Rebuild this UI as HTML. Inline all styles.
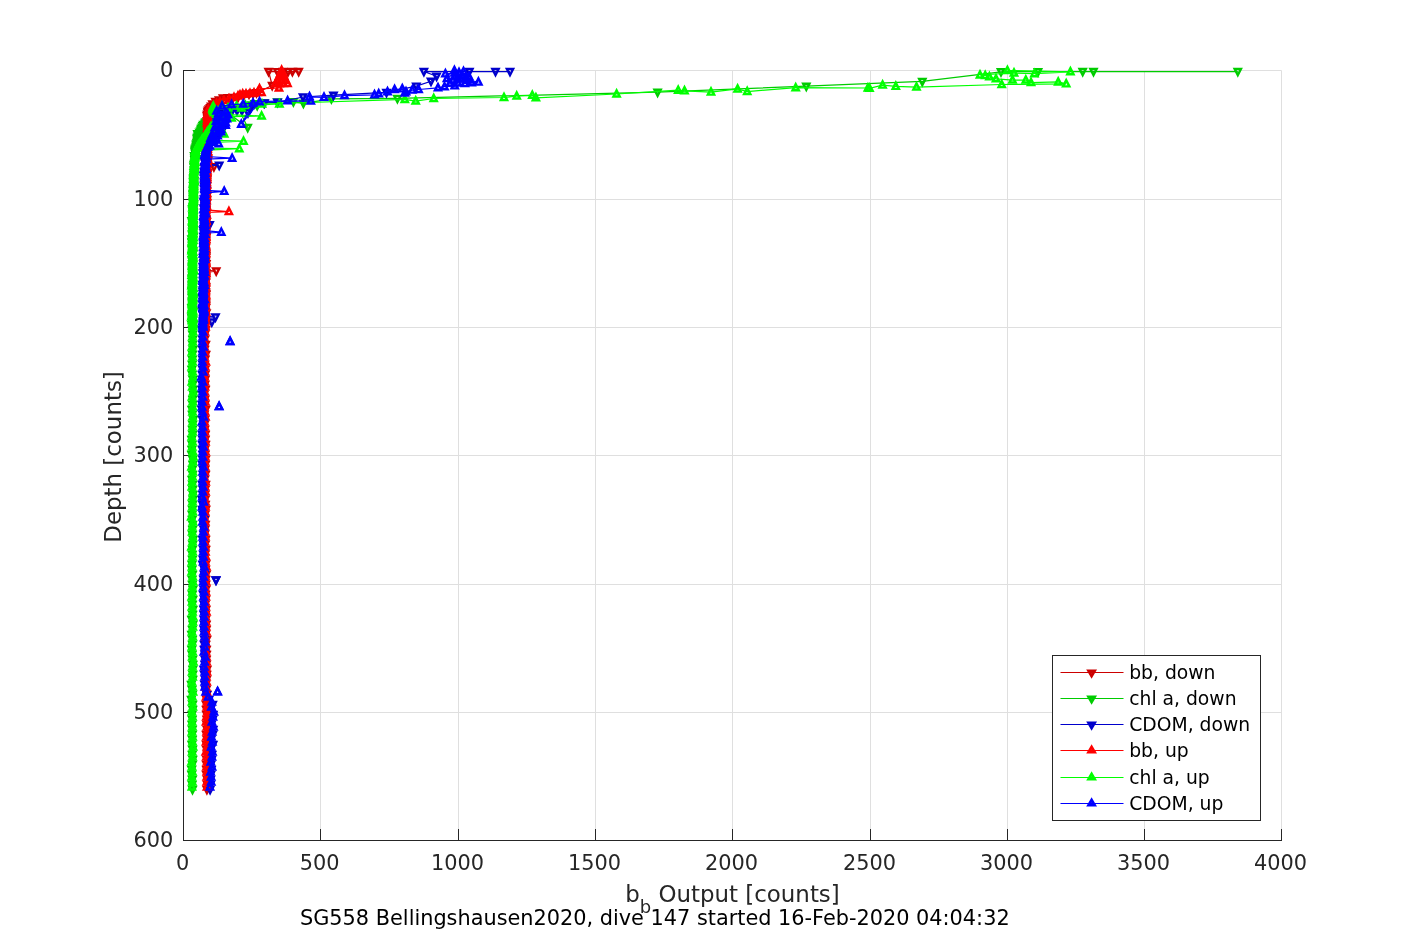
<!DOCTYPE html>
<html lang="en"><head><meta charset="utf-8"><title>SG558 Bellingshausen2020, dive 147</title>
<style>html,body{margin:0;padding:0;background:#fff;overflow:hidden}svg{display:block}text{font-family:"DejaVu Sans","Liberation Sans",sans-serif;fill:#262626}.tk{font-size:20.83px}.lb{font-size:22.92px}.lg{font-size:18.75px;fill:#000}.ft{font-size:20.83px;fill:#000}.s{fill:none;stroke-width:1.25}</style></head><body>
<svg width="1417" height="945" viewBox="0 0 1417 945">
<rect width="1417" height="945" fill="#fff"/>
<defs>
<marker id="m_bb_down" markerUnits="userSpaceOnUse" markerWidth="16" markerHeight="16" viewBox="-8 -8 16 16" refX="0" refY="0" orient="0" overflow="visible"><path d="M-3.14 -2.5 L3.14 -2.5 L0 3.66 Z" fill="none" stroke="#cc0000" stroke-width="2.4" stroke-linejoin="miter"/></marker>
<marker id="m_chl_down" markerUnits="userSpaceOnUse" markerWidth="16" markerHeight="16" viewBox="-8 -8 16 16" refX="0" refY="0" orient="0" overflow="visible"><path d="M-3.14 -2.5 L3.14 -2.5 L0 3.66 Z" fill="none" stroke="#00cc00" stroke-width="2.4" stroke-linejoin="miter"/></marker>
<marker id="m_cdom_down" markerUnits="userSpaceOnUse" markerWidth="16" markerHeight="16" viewBox="-8 -8 16 16" refX="0" refY="0" orient="0" overflow="visible"><path d="M-3.14 -2.5 L3.14 -2.5 L0 3.66 Z" fill="none" stroke="#0000cc" stroke-width="2.4" stroke-linejoin="miter"/></marker>
<marker id="m_bb_up" markerUnits="userSpaceOnUse" markerWidth="16" markerHeight="16" viewBox="-8 -8 16 16" refX="0" refY="0" orient="0" overflow="visible"><path d="M-3.14 2.5 L3.14 2.5 L0 -3.66 Z" fill="none" stroke="#ff0000" stroke-width="2.4" stroke-linejoin="miter"/></marker>
<marker id="m_chl_up" markerUnits="userSpaceOnUse" markerWidth="16" markerHeight="16" viewBox="-8 -8 16 16" refX="0" refY="0" orient="0" overflow="visible"><path d="M-3.14 2.5 L3.14 2.5 L0 -3.66 Z" fill="none" stroke="#00ff00" stroke-width="2.4" stroke-linejoin="miter"/></marker>
<marker id="m_cdom_up" markerUnits="userSpaceOnUse" markerWidth="16" markerHeight="16" viewBox="-8 -8 16 16" refX="0" refY="0" orient="0" overflow="visible"><path d="M-3.14 2.5 L3.14 2.5 L0 -3.66 Z" fill="none" stroke="#0000ff" stroke-width="2.4" stroke-linejoin="miter"/></marker>
<marker id="l_bb_down" markerUnits="userSpaceOnUse" markerWidth="16" markerHeight="16" viewBox="-8 -8 16 16" refX="0" refY="0" orient="0" overflow="visible"><path d="M-3.05 -1.6L3.05 -1.6L0 3.55Z" fill="none" stroke="#cc0000" stroke-width="2.7" stroke-linejoin="miter"/></marker>
<marker id="l_chl_down" markerUnits="userSpaceOnUse" markerWidth="16" markerHeight="16" viewBox="-8 -8 16 16" refX="0" refY="0" orient="0" overflow="visible"><path d="M-3.05 -1.6L3.05 -1.6L0 3.55Z" fill="none" stroke="#00cc00" stroke-width="2.7" stroke-linejoin="miter"/></marker>
<marker id="l_cdom_down" markerUnits="userSpaceOnUse" markerWidth="16" markerHeight="16" viewBox="-8 -8 16 16" refX="0" refY="0" orient="0" overflow="visible"><path d="M-3.05 -1.6L3.05 -1.6L0 3.55Z" fill="none" stroke="#0000cc" stroke-width="2.7" stroke-linejoin="miter"/></marker>
<marker id="l_bb_up" markerUnits="userSpaceOnUse" markerWidth="16" markerHeight="16" viewBox="-8 -8 16 16" refX="0" refY="0" orient="0" overflow="visible"><path d="M-3.05 1.6L3.05 1.6L0 -3.55Z" fill="none" stroke="#ff0000" stroke-width="2.7" stroke-linejoin="miter"/></marker>
<marker id="l_chl_up" markerUnits="userSpaceOnUse" markerWidth="16" markerHeight="16" viewBox="-8 -8 16 16" refX="0" refY="0" orient="0" overflow="visible"><path d="M-3.05 1.6L3.05 1.6L0 -3.55Z" fill="none" stroke="#00ff00" stroke-width="2.7" stroke-linejoin="miter"/></marker>
<marker id="l_cdom_up" markerUnits="userSpaceOnUse" markerWidth="16" markerHeight="16" viewBox="-8 -8 16 16" refX="0" refY="0" orient="0" overflow="visible"><path d="M-3.05 1.6L3.05 1.6L0 -3.55Z" fill="none" stroke="#0000ff" stroke-width="2.7" stroke-linejoin="miter"/></marker>
</defs>
<path d="M183.5 70.5V840.5M320.5 70.5V840.5M458.5 70.5V840.5M595.5 70.5V840.5M732.5 70.5V840.5M870.5 70.5V840.5M1007.5 70.5V840.5M1144.5 70.5V840.5M1281.5 70.5V840.5M183.5 70.5H1281.5M183.5 199.5H1281.5M183.5 327.5H1281.5M183.5 455.5H1281.5M183.5 584.5H1281.5M183.5 712.5H1281.5M183.5 840.5H1281.5" fill="none" stroke="#dfdfdf" stroke-width="1"/>
<path d="M183.5 70.5V840.5H1281.5M183.5 840.5v-11M320.5 840.5v-11M458.5 840.5v-11M595.5 840.5v-11M732.5 840.5v-11M870.5 840.5v-11M1007.5 840.5v-11M1144.5 840.5v-11M1281.5 840.5v-11M183.5 70.5h11M183.5 199.5h11M183.5 327.5h11M183.5 455.5h11M183.5 584.5h11M183.5 712.5h11M183.5 840.5h11" fill="none" stroke="#262626" stroke-width="1" stroke-linecap="square"/>
<g class="s" stroke="#cc0000" marker-start="url(#m_bb_down)" marker-mid="url(#m_bb_down)" marker-end="url(#m_bb_down)">
<polyline points="298.7,71.5 292.4,71.5 288,71.6 283,71.5 277.5,71.6 268.6,71.5 272.2,85.5 256.5,92.8 253,93.2 249,94 244,94.8 238,97.2 233,97.5 228,97.6 223,98 219,100 215.5,101.5 212.5,104 211.1,106.3 210.3,107.6 209.1,108.9 208.2,110.2 207.8,111.5 208,112.8 207.4,114.1 207,115.4 207.6,116.7 207.6,118 207.7,119.3 207.1,120.6 207.5,121.9 207.5,123.2 206.9,124.5 207.7,125.8 207.6,127.1 208.5,128.4 207.6,129.7 207.4,131 208,132.3 207.6,133.6 207.9,134.9 207.4,136.2 207.6,137.5 207.9,138.8 207.8,140.1 207.6,141.4 207.1,142.7 207.7,144 207.5,145.3 207.8,146.6 207.6,147.9 207.9,149.2 207.5,150.5 207.5,151.8 207.7,153.1 206.9,154.4 207.2,155.7 207.1,157 208,158.3 207.2,159.6 207.4,160.9 207.4,162.2 207,163.5 206.4,164.8 207.4,166.1 213.9,166.8 207.2,168.7 206.4,170 206.7,171.3 207.3,172.6 207.4,173.9 206.2,175.2 206.2,176.5 206.6,177.8 206.9,179.1 206.7,180.4 206.7,181.7 206.1,183 206.7,184.3 206.9,185.6 206.2,186.9 205.8,188.2 206,189.5 206.6,190.8 205.6,192.1 206.2,193.4 205.8,194.7 206.2,196 206.1,197.3 206.2,198.6 206.8,199.9 206.3,201.2 206.7,202.5 206.1,203.8 205.9,205.1 206.2,206.4 204.9,207.7 206,209 206.1,210.3 205.5,211.6 206.2,212.9 205.7,214.2 205,215.5 205.8,216.8 205.5,218.1 205.7,219.4 205.8,220.7 206.4,222 205.9,223.3 205.8,224.6 206,225.9 205.1,227.2 206.3,228.5 205.3,229.8 205.9,231.1 205.3,232.4 205.3,233.7 205.5,235 206.4,236.3 205.9,237.6 205.4,238.9 205.5,240.2 205.1,241.5 205.6,242.8 205.4,244.1 205.9,245.4 205,246.7 205.4,248 205.2,249.3 205.3,250.6 205.8,251.9 205.6,253.2 205.8,254.5 206,255.8 206,257.1 205,258.4 205.7,259.7 204.8,261 205.5,262.3 206.2,263.6 205.4,264.9 205.3,266.2 205.5,267.5 205.5,268.8 205.5,270.1 216.2,271 205.9,272.7 205.8,274 205.3,275.3 205.5,276.6 205.7,277.9 205.8,279.2 205.6,280.5 205.7,281.8 205.3,283.1 205,284.4 205.2,285.7 205.8,287 205.7,288.3 205.4,289.6 205.1,290.9 205.5,292.2 206,293.5 205.9,294.8 205,296.1 205.3,297.4 204.7,298.7 204.8,300 205.4,301.3 205.3,302.6 205.7,303.9 205.8,305.2 205.6,306.5 205.8,307.8 205,309.1 204.8,310.4 205.4,311.7 206.3,313 205.3,314.3 204.7,315.6 205.3,316.9 205.7,318.2 204.7,319.5 205.4,320.8 204.9,322.1 205.6,323.4 205.4,324.7 205.2,326 205.8,329.5 204.8,334.5 204.7,339.5 205.7,344.5 204.6,349.5 205.9,354.5 205,359.5 204.6,364.5 205,369.5 205.1,374.5 205.1,379.5 204.9,384.5 205.4,389.5 204.1,394.5 204.8,399.5 204.9,404.5 205.7,409.5 204.2,414.5 204.9,419.5 204.5,424.5 204.7,429.5 205.3,434.5 205.2,439.5 205.6,444.5 204.8,449.5 205.1,454.5 205.5,459.5 205.4,464.5 204.9,469.5 205.5,474.5 204.6,479.5 205.7,484.5 205.1,489.5 205,494.5 205.1,499.5 205.4,504.5 205.8,509.5 205,514.5 205,519.5 205.4,524.5 204.9,529.5 204.6,534.5 205.6,539.5 205.2,544.5 205.8,549.5 205,554.5 204.3,559.5 205.6,564.5 205.5,569.5 206.2,574.5 205.8,579.5 205.7,584.5 205.9,589.5 205.5,594.5 205.7,599.5 205.2,604.5 206,609.5 205.5,614.5 205.7,619.5 206.2,624.5 206.3,629.5 205.6,634.5 206.8,639.5 205.8,644.5 206.4,649.5 206.5,654.5 206.3,659.5 206.3,664.5 207,669.5 206.7,674.5 206.6,679.5 205.7,684.5 206.2,689.5 207,694.5 206.6,699.5 206.2,704.5 206.3,709.5 206.5,714.5 206.9,719.5 206.8,724.5 207,729.5 206.3,734.5 207,739.5 206.4,744.5 206.5,749.5 207.3,754.5 206.6,759.5 206.5,764.5 206.5,769.5 206.4,774.5 207.2,779.5 207.2,784.5 206.9,789.5"/>
</g>
<g class="s" stroke="#00cc00" marker-start="url(#m_chl_down)" marker-mid="url(#m_chl_down)" marker-end="url(#m_chl_down)">
<polyline points="1237.8,71.5 1093.5,71.5 1082.7,71.5 1038,71.6 1001,71.8 922.3,81.4 806.3,86.2 657.6,92.2 397.4,98.4 331.4,98.8 303.4,103.3 293.4,101.7 277.4,102 264,103 257.2,105.5 254.7,103.6 251.6,105 245,106.5 238,107.5 247.7,127.5 228,113 226.5,115.8 220,117 214,119 205.6,121.9 204.9,123.2 203.4,124.5 202.8,125.8 202.1,127.1 201.3,128.4 201.2,129.7 200.5,131 199.5,132.3 197.5,133.6 198.6,134.9 197.9,136.2 197.2,137.5 197.2,138.8 197.4,140.1 197.2,141.4 196.9,142.7 196.4,144 196.2,145.3 196.2,146.6 195.6,147.9 195.1,149.2 195,150.5 195.1,151.8 195.2,153.1 195.9,154.4 194.3,155.7 194.9,157 194.6,158.3 194.7,159.6 195,160.9 194.9,162.2 194.3,163.5 194.1,164.8 193.8,166.1 194.2,167.4 194.7,168.7 194.1,170 194.4,171.3 194.4,172.6 194.2,173.9 194.4,175.2 193.9,176.5 193.6,177.8 193.4,179.1 194.2,180.4 193.6,181.7 193.6,183 194,184.3 193.3,185.6 194.3,186.9 193.8,188.2 193.3,189.5 193.2,190.8 193.9,192.1 193,193.4 193.1,194.7 193.4,196 193.4,197.3 193.3,198.6 193.5,199.9 193.1,201.2 193.2,202.5 193.7,203.8 193.5,205.1 193,206.4 193.8,207.7 192.3,209 193.1,210.3 193.3,211.6 193.4,212.9 193.1,214.2 192.8,215.5 193.2,216.8 192.9,218.1 193.1,219.4 191.7,220.7 193,222 192.5,223.3 193.2,224.6 193.1,225.9 193,227.2 192.6,228.5 192.9,229.8 192.5,231.1 192.7,232.4 192.6,233.7 192.3,235 193.4,236.3 192.8,237.6 191.7,238.9 192.9,240.2 191.9,241.5 192.4,242.8 192.3,244.1 192.3,245.4 192.6,246.7 192.4,248 191.9,249.3 192.5,250.6 192.6,251.9 193.2,253.2 192.3,254.5 192,255.8 192.3,257.1 192.8,258.4 192.1,259.7 192.2,261 192.7,262.3 192.5,263.6 192.6,264.9 192.2,266.2 192.2,267.5 192.4,268.8 192.4,270.1 192.4,271.4 192.7,272.7 192.7,274 192.7,275.3 192.7,276.6 192.1,277.9 192,279.2 192.8,280.5 192.5,281.8 192.5,283.1 192,284.4 192.4,285.7 192.2,287 192.1,288.3 192.2,289.6 191.9,290.9 192.5,292.2 192.9,293.5 192.2,294.8 192.5,296.1 192,297.4 192.7,298.7 193.2,300 192,301.3 192.4,302.6 193,303.9 192.6,305.2 192.5,306.5 191.7,307.8 192.4,309.1 192.8,310.4 193,311.7 192.7,313 192.2,314.3 192.2,315.6 191.7,316.9 192,318.2 192.9,319.5 192.4,320.8 191.9,322.1 193,323.4 191.8,324.7 193,326 192.3,329.5 192.6,334.5 192.7,339.5 192.6,344.5 193,349.5 192.5,354.5 192.3,359.5 192.2,364.5 191.9,369.5 192.2,374.5 192.8,379.5 192.8,384.5 193,389.5 193.5,394.5 192.7,399.5 192.6,404.5 191.9,409.5 192.3,414.5 193.3,419.5 192.6,424.5 192.4,429.5 192.6,434.5 191.7,439.5 192.1,444.5 191.9,449.5 191.6,454.5 192.7,459.5 192.8,464.5 192.3,469.5 192.6,474.5 192,479.5 192.6,484.5 192.7,489.5 193,494.5 193,499.5 192.6,504.5 192.4,509.5 192.1,514.5 192.2,519.5 192.6,524.5 192.6,529.5 192.4,534.5 193.1,539.5 192.7,544.5 192.4,549.5 192.3,554.5 192.4,559.5 192,564.5 192,569.5 192.5,574.5 192.1,579.5 192.3,584.5 192.9,589.5 192.3,594.5 192.9,599.5 192.4,604.5 193,609.5 192.6,614.5 191.7,619.5 192.9,624.5 192.3,629.5 191.6,634.5 192.4,639.5 192.4,644.5 191.8,649.5 192.1,654.5 192.6,659.5 192.9,664.5 192.8,669.5 192.8,674.5 192.8,679.5 191.3,684.5 192,689.5 192.4,694.5 191.3,699.5 192.6,704.5 192.7,709.5 192,714.5 192.2,719.5 192,724.5 192.3,729.5 192.3,734.5 192.3,739.5 191.9,744.5 192.5,749.5 192.2,754.5 192.7,759.5 192.4,764.5 191.7,769.5 191.7,774.5 192.3,779.5 192.1,784.5 192.5,789.5"/>
</g>
<g class="s" stroke="#0000cc" marker-start="url(#m_cdom_down)" marker-mid="url(#m_cdom_down)" marker-end="url(#m_cdom_down)">
<polyline points="495.5,71.5 510,71.5 469.4,71.5 423.9,71.5 436.6,76.2 431,81.3 416.3,86.1 386.5,92.4 333.5,95.2 303,97 277.5,102.3 264.5,103 250.5,108.4 248,112.6 242,110.5 237,110.5 232.5,110 228,109 217.4,110.5 226.5,111.8 218.9,113.1 215,114.4 225,115.7 217.3,117 227.8,118.3 222.5,119.6 216.7,120.9 225.8,122.2 218.3,123.5 225.4,124.8 222.1,126.1 215.4,127.4 222.1,128.7 216,130 212.7,131.3 218.7,132.6 212.9,133.9 218.8,135.2 214.4,136.5 211.6,137.8 214.4,139.1 211,140.4 209.7,141.7 210.9,143 207.8,144.3 209.9,145.6 207.6,146.9 206,148.2 207,149.5 205.7,150.8 206.5,152.1 205.8,153.4 206,154.7 205.8,156 205.6,157.3 204.2,158.6 205.7,159.9 204.4,161.2 205.4,162.5 205.4,163.8 219.2,165.2 204.6,166.4 204.6,167.7 205.4,169 205.4,170.3 204.3,171.6 205.3,172.9 204.9,174.2 203.9,175.5 205.2,176.8 204.4,178.1 205.6,179.4 205.1,180.7 204.5,182 204.4,183.3 204.8,184.6 204.4,185.9 204.9,187.2 204.5,188.5 204.9,189.8 205.1,191.1 204.8,192.4 205.5,193.7 204.5,195 206.1,196.3 205.4,197.6 204.1,198.9 205.2,200.2 204,201.5 204.3,202.8 205.3,204.1 205,205.4 205,206.7 204.1,208 204.2,209.3 205.6,210.6 204.5,211.9 204.6,213.2 205.2,214.5 204.9,215.8 205.2,217.1 204.2,218.4 204.3,219.7 205.8,221 204,222.3 204.2,223.6 209.6,224.7 204.2,226.2 204.5,227.5 204,228.8 203.3,230.1 204.9,231.4 204.1,232.7 204.5,234 204.2,235.3 203.7,236.6 205,237.9 203.9,239.2 205.2,240.5 204,241.8 203.6,243.1 204.3,244.4 203.8,245.7 203.6,247 204.8,248.3 204.3,249.6 204.1,250.9 204.7,252.2 203.6,253.5 205,254.8 203.7,256.1 203.1,257.4 204.5,258.7 203.8,260 204.1,261.3 203.8,262.6 203.5,263.9 204.3,265.2 202.9,266.5 203.8,267.8 204,269.1 203.5,270.4 203.9,271.7 202.9,273 203.8,274.3 203.8,275.6 202.9,276.9 204.7,278.2 204.2,279.5 203.6,280.8 204.3,282.1 203.6,283.4 202.7,284.7 203.8,286 203.4,287.3 204.2,288.6 203.7,289.9 202.7,291.2 203.6,292.5 203.1,293.8 203.9,295.1 203.3,296.4 202.4,297.7 203.4,299 203.5,300.3 203,301.6 204,302.9 202.4,304.2 203.7,305.5 203.9,306.8 202.3,308.1 203.3,309.4 202.5,310.7 204.4,312 203.6,313.3 202.8,314.6 203.9,315.9 215.5,317 203.3,318.5 204.1,319.8 203.4,321.1 211.8,322 203.6,323.7 203.1,325 203.7,326.3 202,329.5 202.6,334.5 202.6,339.5 202.5,344.5 202.5,349.5 202.5,354.5 202.7,359.5 202.7,364.5 202.6,369.5 202.2,374.5 202.1,379.5 202.2,384.5 202,389.5 202.4,394.5 202.2,399.5 202,404.5 201.8,409.5 202.5,414.5 202.4,419.5 203.5,424.5 203.1,429.5 202.3,434.5 202.6,439.5 202.3,444.5 202.3,449.5 202.7,454.5 202.7,459.5 202.4,464.5 203.1,469.5 203,474.5 203.6,479.5 202.3,484.5 203,489.5 202.7,494.5 202.1,499.5 202.6,504.5 202.3,509.5 202.9,514.5 204.2,519.5 203.6,524.5 203.8,529.5 203.7,534.5 202.6,539.5 203.6,544.5 203.4,549.5 203.5,554.5 203.1,559.5 202.7,564.5 204.3,569.5 204.2,574.5 203.7,579.5 203.6,584.5 203.9,589.5 203.3,594.5 204.4,599.5 204,604.5 203.8,609.5 203.9,614.5 204,619.5 204.3,624.5 204,629.5 204.6,634.5 204.5,639.5 204.3,644.5 204.2,649.5 205,654.5 205,659.5 204.9,664.5 203.9,669.5 204.4,674.5 205.2,679.5 204.7,684.5 205.4,689.5 206.8,694.5 209,699.5 212.7,704.5 210.6,709.5 213.2,714.5 212.7,719.5 211.4,724.5 213.2,729.5 212.8,734.5 211.1,739.5 213.1,744.5 210.7,749.5 212,754.5 211.7,759.5 210.9,764.5 211.4,769.5 210.9,774.5 210.6,779.5 210.6,784.5 210.1,789.5"/>
<polyline points="216,580 216,580"/>
</g>
<g class="s" stroke="#ff0000" marker-start="url(#m_bb_up)" marker-mid="url(#m_bb_up)" marker-end="url(#m_bb_up)">
<polyline points="207,787 206.8,782 206.8,777 206.8,772 206.5,767 207,762 206.4,757 205.8,752 206.9,747 206.1,742 206.4,737 206.7,732 206.9,727 206.1,722 206.4,717 207.3,712 206.9,707 207,702 206.2,697 206.8,692 206.1,687 206.7,682 206.3,677 206.9,672 206.1,667 206.6,662 206.4,657 206,652 205.6,647 205.5,642 205.2,637 206.4,632 206.1,627 206,622 205.7,617 206.4,612 205.7,607 205.5,602 205.8,597 205.9,592 205,587 206.1,582 205.5,577 205,572 206.4,567 205.4,562 206,557 205.4,552 205.3,547 204.9,542 205.3,537 205.1,532 204.9,527 205.2,522 204.3,517 205.1,512 205.4,507 205.4,502 204.3,497 205.5,492 205.1,487 205.6,482 204.3,477 204.8,472 205.1,467 204.9,462 205.2,457 205.5,452 204.9,447 205.4,442 204.5,437 204.8,432 204.9,427 204.5,422 205.4,417 205.1,412 204.3,407 205.3,402 205,397 204.8,392 204.9,387 204.9,382 204.6,377 205,372 205.2,367 205.8,362 204.4,357 204.8,352 204.5,347 204.1,342 204,337 204.9,332 205.2,327 205.4,326.9 204.6,325.6 205.2,324.3 204.1,323 205.2,321.7 205.4,320.4 205.1,319.1 205.4,317.8 205.3,316.5 205.3,315.2 205.1,313.9 205.8,312.6 204.7,311.3 205.1,310 204.8,308.7 205.3,307.4 204.8,306.1 205.1,304.8 205.2,303.5 204.6,302.2 205.3,300.9 205.6,299.6 205.1,298.3 205,297 206.1,295.7 205.3,294.4 205.4,293.1 205.6,291.8 205.7,290.5 205.1,289.2 205.4,287.9 205.2,286.6 205.4,285.3 205,284 205.9,282.7 204.9,281.4 205.6,280.1 204.7,278.8 205.1,277.5 205.6,276.2 204.9,274.9 206.2,273.6 205.1,272.3 205.9,271 206,269.7 204.7,268.4 205.3,267.1 205.1,265.8 205.5,264.5 206.1,263.2 206,261.9 205.8,260.6 205.2,259.3 204.5,258 205.5,256.7 205,255.4 205.8,254.1 205.4,252.8 205.8,251.5 205.1,250.2 204.7,248.9 206,247.6 205.5,246.3 205.1,245 205.4,243.7 205.1,242.4 205.5,241.1 206.1,239.8 205.2,238.5 206.1,237.2 205.9,235.9 205.9,234.6 205.7,233.3 205.7,232 206,230.7 205.9,229.4 205.4,228.1 206,226.8 205.7,225.5 205.7,224.2 205.4,222.9 206.4,221.6 205.9,220.3 205.5,219 205.4,217.7 206,216.4 206.6,215.1 206.2,213.8 206,212.5 228.9,211.6 205.3,209.9 205.9,208.6 205.8,207.3 206.7,206 205.6,204.7 205.9,203.4 205.9,202.1 206.5,200.8 205.7,199.5 205.5,198.2 207,196.9 206,195.6 205.7,194.3 206.6,193 206.3,191.7 206.7,190.4 207,189.1 206.7,187.8 205.9,186.5 206.8,185.2 206.6,183.9 206.7,182.6 206.2,181.3 206.3,180 206.8,178.7 206.9,177.4 206.6,176.1 206.5,174.8 206.9,173.5 207,172.2 207.2,170.9 206.4,169.6 206.8,168.3 207.2,167 206.6,165.7 206.9,164.4 207.3,163.1 207.3,161.8 207.1,160.5 207.7,159.2 207.5,157.9 206.9,156.6 207.1,155.3 207.9,154 207,152.7 207.5,151.4 206.9,150.1 207.6,148.8 206.9,147.5 206.4,146.2 207.9,144.9 207.8,143.6 207.2,142.3 208.1,141 206.7,139.7 207.9,138.4 207,137.1 208.5,135.8 207.6,134.5 206.6,133.2 208,131.9 208.5,130.6 207.8,129.3 207.3,128 208.2,126.7 208,125.4 207.5,124.1 207,122.8 208.1,121.5 207.2,120.2 207.9,118.9 207.4,117.6 207.2,116.3 207.5,115 208.1,113.7 208.8,112.4 208.7,111.1 208.3,109.8 213.5,105.5 216.5,103.5 220,102 224,100.5 229,99 234,97.5 238,96 240,95 242.7,94 246,94 250,93.5 254,93 257.5,92.6 261.5,92.6 259.5,88.9 279,88 275.6,83.6 279.5,83.8 283.5,83.6 287.5,83.6 285.8,80 281.6,81 277.4,80 279,76.5 284.2,76.5 281.6,77 280.3,73.5 282.9,73.5 281.6,70.2"/>
</g>
<g class="s" stroke="#00ff00" marker-start="url(#m_chl_up)" marker-mid="url(#m_chl_up)" marker-end="url(#m_chl_up)">
<polyline points="191.9,787 192.3,782 191.8,777 192.4,772 192,767 191.6,762 192.5,757 192.2,752 193,747 192.5,742 192.6,737 192,732 192.4,727 192.1,722 192.5,717 191.9,712 192.8,707 192.1,702 192.3,697 193,692 192.6,687 191.9,682 192.6,677 192.2,672 192.4,667 193.3,662 192.3,657 192.6,652 192,647 192.1,642 192.7,637 192,632 192.8,627 192.8,622 193.1,617 192.4,612 192,607 192.1,602 191.8,597 192.2,592 192.1,587 193,582 192.7,577 191.7,572 192.1,567 192,562 192.3,557 192.6,552 191.5,547 192.5,542 192.6,537 192.2,532 192.1,527 192.9,522 191.3,517 192.8,512 192.4,507 192.4,502 192.1,497 192.8,492 191.9,487 192,482 192.5,477 192.8,472 191.6,467 192.9,462 193.3,457 193,452 192.1,447 192.5,442 191.8,437 192.5,432 192.5,427 192.7,422 192.5,417 192.5,412 192.8,407 192.7,402 192.1,397 193.1,392 192.3,387 191.9,382 192.9,377 192.6,372 191.8,367 192.5,362 192.5,357 192,352 192,347 192.6,342 192.4,337 193,332 192.7,327 192.8,326.1 193,324.8 192.8,323.5 193,322.2 191.9,320.9 192.6,319.6 193.3,318.3 191.4,317 192.2,315.7 192.5,314.4 192.1,313.1 193,311.8 192.7,310.5 191.7,309.2 192.1,307.9 192.5,306.6 192.3,305.3 191.9,304 192.3,302.7 192.1,301.4 192.7,300.1 192.7,298.8 192.2,297.5 192.6,296.2 192.9,294.9 192.5,293.6 193.2,292.3 193,291 192.1,289.7 193.2,288.4 192.2,287.1 191.6,285.8 192.6,284.5 192.7,283.2 192.3,281.9 193,280.6 192.5,279.3 193.2,278 192.5,276.7 191.8,275.4 192.7,274.1 192.2,272.8 193,271.5 193.6,270.2 192.3,268.9 192.5,267.6 192.1,266.3 192.6,265 192.7,263.7 192.5,262.4 192.6,261.1 192.6,259.8 193.1,258.5 192.6,257.2 192.9,255.9 192.8,254.6 192,253.3 192.9,252 191.7,250.7 192,249.4 192.6,248.1 192.2,246.8 192.8,245.5 192.9,244.2 192.1,242.9 192.2,241.6 193,240.3 192.6,239 193.5,237.7 192.1,236.4 192.8,235.1 193.2,233.8 192.6,232.5 193,231.2 193.1,229.9 193,228.6 192.4,227.3 193.4,226 193.2,224.7 193.6,223.4 192.4,222.1 192.2,220.8 193.3,219.5 192.7,218.2 193.2,216.9 192.9,215.6 193.2,214.3 192.8,213 193,211.7 193.2,210.4 193.5,209.1 192.5,207.8 193.1,206.5 193,205.2 192.5,203.9 192.8,202.6 193,201.3 193.5,200 193.6,198.7 193.4,197.4 193,196.1 193.9,194.8 193.4,193.5 193.4,192.2 193.2,190.9 193.9,189.6 193.7,188.3 193.6,187 193.4,185.7 193.7,184.4 193.6,183.1 193.5,181.8 194.3,180.5 193.8,179.2 193.5,177.9 193.9,176.6 193.5,175.3 193.6,174 193.9,172.7 193.9,171.4 194.5,170.1 193.8,168.8 194.6,167.5 193.8,166.2 194.6,164.9 194.4,163.6 195,162.3 194.7,161 194.5,159.7 194.7,158.4 195,157.1 195,155.8 195.2,154.5 196.2,153.2 195,151.9 196,150.6 239.3,148.7 197,148 197.5,146.7 198.3,145.4 199.2,144.1 200.2,142.8 243.5,141.2 201.7,140.2 203.1,138.9 204.9,137.6 204.8,136.3 205.7,135 224.2,134 207.2,132.4 208.2,131.1 209.9,129.8 210.3,128.5 210.6,127.2 212.3,125.9 213.9,124.6 215,123.3 217,122 217.9,120.7 218.5,119.4 231.6,118 217.9,116.8 261.6,116 216.3,114.2 214.1,112.9 213.3,111.6 213,110.3 212.5,109 212.8,107.7 213.3,106.4 236.6,106 228,108 222,106 241.5,108 245.5,105.5 279.4,104 262,104 404.8,99.5 415.7,101 433.7,98.5 504,97.5 516.7,96 532.3,95.3 535.9,97.8 616.6,94 678.2,90.2 684.5,90.9 711,92.1 737.6,89 747.2,91.5 795.7,87.7 867.9,88 869.5,88.3 882.6,85.1 895.8,86.4 916.5,87 1001.7,84.5 1066.2,83.9 1058.2,82 1031,82.6 1025.8,80 1012.5,80 996,78.8 989.4,76.9 985.2,75.5 980,75 1014,73 1034.4,73.7 1070.4,71.8 1007.4,70.5"/>
</g>
<g class="s" stroke="#0000ff" marker-start="url(#m_cdom_up)" marker-mid="url(#m_cdom_up)" marker-end="url(#m_cdom_up)">
<polyline points="210,787 211.2,782 211.1,777 210.6,772 212,767 210.8,762 211.9,757 212.4,752 211.2,747 212.3,742 211.5,737 212.1,732 213.5,727 211.9,722 212.9,717 213.9,712 211.4,707 211.8,702 208.1,697 205.7,692 204.8,687 204.8,682 204.7,677 204.8,672 204.3,667 204.6,662 205.3,657 203.9,652 204.8,647 205.3,642 204.6,637 204.1,632 204.1,627 204,622 204.1,617 204.2,612 204,607 204.1,602 203.6,597 204,592 203.4,587 203.3,582 203.5,577 203.7,572 204.3,567 203.2,562 203.4,557 203.3,552 203.5,547 203,542 203,537 203.3,532 203.8,527 202.6,522 202.9,517 202.9,512 202.1,507 203.7,502 202.4,497 202.8,492 203.1,487 202.7,482 203.1,477 202.7,472 203.4,467 202.5,462 202.8,457 202.8,452 203.4,447 203.2,442 202.7,437 202.5,432 202.6,427 202.1,422 203.7,417 202.6,412 202,407 202.2,402 202.7,397 202.7,392 202.2,387 202.8,382 201.4,377 203.2,372 202.9,367 202.4,362 202.6,357 202.6,352 203.4,347 202.6,342 202.8,337 203,332 202.8,327 203.2,326.8 202.9,325.5 202.6,324.2 203,322.9 202.5,321.6 203.4,320.3 203.5,319 203,317.7 203.2,316.4 203.3,315.1 203.3,313.8 204,312.5 204,311.2 204.1,309.9 203.4,308.6 202.8,307.3 204,306 203.9,304.7 202.4,303.4 203.3,302.1 203.4,300.8 204.6,299.5 202.9,298.2 203,296.9 203.3,295.6 203.4,294.3 203.7,293 203.3,291.7 202.9,290.4 203.7,289.1 203.6,287.8 203.5,286.5 204.5,285.2 203,283.9 204.2,282.6 202.8,281.3 203.2,280 203.3,278.7 203.5,277.4 204.6,276.1 203.2,274.8 203.4,273.5 204.8,272.2 203.4,270.9 204.3,269.6 204,268.3 203.8,267 204.3,265.7 203.5,264.4 203.9,263.1 203.5,261.8 203.9,260.5 204.9,259.2 204.3,257.9 204.4,256.6 204.9,255.3 203,254 203.9,252.7 204.2,251.4 204.2,250.1 204.5,248.8 203.4,247.5 204.4,246.2 204.7,244.9 203.4,243.6 204.2,242.3 204.6,241 203.8,239.7 204.6,238.4 203.6,237.1 203.2,235.8 205.4,234.5 204.1,233.2 221.3,232.2 204.7,230.6 204.5,229.3 205.1,228 204.4,226.7 205,225.4 205,224.1 203.9,222.8 204.6,221.5 204.7,220.2 204.3,218.9 204.1,217.6 203.4,216.3 204.3,215 205.6,213.7 204.3,212.4 205,211.1 203.7,209.8 204.2,208.5 205.2,207.2 204.6,205.9 205.2,204.6 205.3,203.3 204.6,202 205.6,200.7 204.9,199.4 205.5,198.1 204.7,196.8 203.9,195.5 205,194.2 205.1,192.9 224.2,191.4 205.8,190.3 204.8,189 204.9,187.7 205.3,186.4 205.2,185.1 205.9,183.8 204.4,182.5 205.5,181.2 206.1,179.9 204.4,178.6 205.5,177.3 205.2,176 204.5,174.7 205.4,173.4 204.3,172.1 204.6,170.8 206.2,169.5 204.5,168.2 205.7,166.9 204.7,165.6 205.3,164.3 206.1,163 205.2,161.7 205.1,160.4 206.4,159.1 232.1,158.2 206.5,156.5 204.7,155.2 205,153.9 206.1,152.6 206,151.3 206.6,150 206.3,148.7 207.7,147.4 209.8,146.1 208.3,144.8 218.7,143.8 212.7,142.2 210.2,140.9 214.2,139.6 210.5,138.3 213.4,137 217.6,135.7 212.4,134.4 217.9,133.1 220.9,131.8 215,130.5 221,129.2 214.7,127.9 219.9,126.6 225.7,125.3 217,124 225.7,122.7 216.1,121.4 220.2,120.1 226.9,118.8 217,117.5 223.6,116.2 227.9,114.9 218.3,113.6 225.9,112.3 216.6,111 222,106 231.6,104.6 243.2,104 253,103 241.3,124.2 259.5,101.7 287.6,100.8 310.8,101.1 309.5,96.9 324,97.4 344.5,95.6 374.5,94.9 378.7,93.8 387.5,91.7 394.6,89.6 402.3,88.9 404.8,93 406,91.8 412.3,90.1 418.6,89.5 438,87.8 444.5,86.7 454.7,85.9 464.9,83.6 471.7,82.7 478.4,82.1 468,80 461,79 453,80 447,78.5 450,83 458,83 455,76 462,75 469,76.5 458,78 466,79 445.4,73.9 455,73 463.5,71.6 454.4,70.5 459,72.5"/>
<polyline points="230.1,341.5 230.1,341.5"/>
<polyline points="219.1,406.6 219.1,406.6"/>
<polyline points="217.6,691.8 217.6,691.8"/>
</g>
<text class="tk" x="182.6" y="870" text-anchor="middle">0</text>
<text class="tk" x="319.6" y="870" text-anchor="middle">500</text>
<text class="tk" x="457.6" y="870" text-anchor="middle">1000</text>
<text class="tk" x="594.6" y="870" text-anchor="middle">1500</text>
<text class="tk" x="731.6" y="870" text-anchor="middle">2000</text>
<text class="tk" x="869.6" y="870" text-anchor="middle">2500</text>
<text class="tk" x="1006.6" y="870" text-anchor="middle">3000</text>
<text class="tk" x="1143.6" y="870" text-anchor="middle">3500</text>
<text class="tk" x="1280.6" y="870" text-anchor="middle">4000</text>
<text class="tk" x="173.3" y="77.1" text-anchor="end">0</text>
<text class="tk" x="173.3" y="206.1" text-anchor="end">100</text>
<text class="tk" x="173.3" y="334.1" text-anchor="end">200</text>
<text class="tk" x="173.3" y="462.1" text-anchor="end">300</text>
<text class="tk" x="173.3" y="591.1" text-anchor="end">400</text>
<text class="tk" x="173.3" y="719.1" text-anchor="end">500</text>
<text class="tk" x="173.3" y="847.1" text-anchor="end">600</text>
<text class="lb" x="625.2" y="901.8">b<tspan dy="11" font-size="18px">b</tspan><tspan dy="-11"> Output [counts]</tspan></text>
<text class="lb" transform="translate(121 457) rotate(-90)" text-anchor="middle">Depth [counts]</text>
<text class="ft" x="300" y="925">SG558 Bellingshausen2020, dive 147 started 16-Feb-2020 04:04:32</text>
<rect x="1052.5" y="655.5" width="208" height="165" fill="#fff" stroke="#262626" stroke-width="1"/>
<polyline class="s" stroke="#cc0000" points="1060.5,672.5 1091.6,672.5 1123.5,672.5" style="stroke-width:1.1" marker-mid="url(#l_bb_down)"/>
<text class="lg" x="1129.2" y="678.7">bb, down</text>
<polyline class="s" stroke="#00cc00" points="1060.5,698.5 1091.6,698.5 1123.5,698.5" style="stroke-width:1.1" marker-mid="url(#l_chl_down)"/>
<text class="lg" x="1129.2" y="704.7">chl a, down</text>
<polyline class="s" stroke="#0000cc" points="1060.5,724.5 1091.6,724.5 1123.5,724.5" style="stroke-width:1.1" marker-mid="url(#l_cdom_down)"/>
<text class="lg" x="1129.2" y="730.7">CDOM, down</text>
<polyline class="s" stroke="#ff0000" points="1060.5,750.5 1091.6,750.5 1123.5,750.5" style="stroke-width:1.1" marker-mid="url(#l_bb_up)"/>
<text class="lg" x="1129.2" y="756.7">bb, up</text>
<polyline class="s" stroke="#00ff00" points="1060.5,777.5 1091.6,777.5 1123.5,777.5" style="stroke-width:1.1" marker-mid="url(#l_chl_up)"/>
<text class="lg" x="1129.2" y="783.7">chl a, up</text>
<polyline class="s" stroke="#0000ff" points="1060.5,803.5 1091.6,803.5 1123.5,803.5" style="stroke-width:1.1" marker-mid="url(#l_cdom_up)"/>
<text class="lg" x="1129.2" y="809.7">CDOM, up</text>
</svg></body></html>
